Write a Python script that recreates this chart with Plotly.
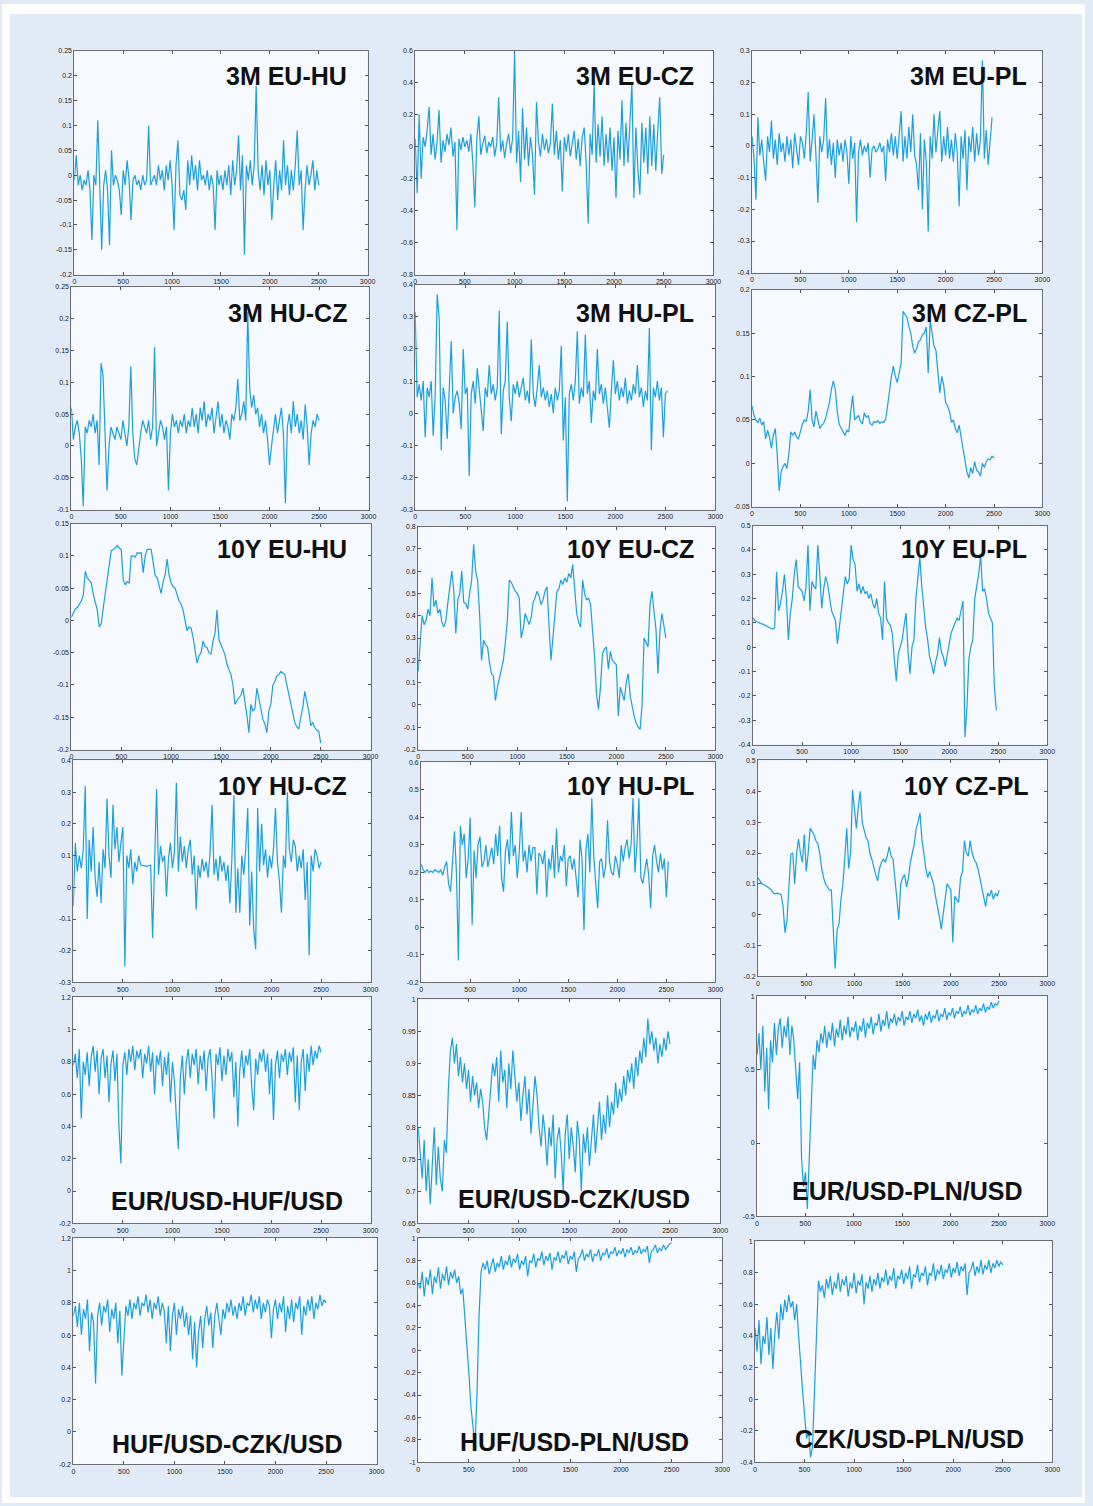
import numpy as np
import plotly.graph_objects as go

# Spacing (in observations) between the stored samples of every series
STEP = 20

# ---------------- 3M interest-rate differentials ----------------
ir3m_eu_hu = [-0.01, 0.04, -0.02, 0.0, -0.03, -0.01, -0.02, 0.01, -0.03, -0.13, 0.0, -0.02, 0.11, -0.04, -0.15, -0.02,
              0.01, -0.03, -0.14, 0.05, -0.02, 0.0, -0.01, -0.03, -0.08, 0.01, -0.02, 0.03, -0.01, -0.09, -0.01, 0.0,
              -0.02, -0.01, -0.03, 0.0, -0.02, -0.01, 0.1, -0.02, -0.01, 0.0, -0.02, 0.02, -0.01, 0.01, -0.03, 0.02,
              -0.01, 0.03, -0.02, -0.11, 0.02, 0.07, -0.04, -0.05, -0.03, -0.07, 0.03, -0.02, 0.04, -0.01, 0.02, -0.03,
              0.03, -0.01, 0.0, -0.02, 0.01, -0.03, 0.0, -0.02, -0.11, 0.01, -0.02, 0.0, -0.03, 0.01, -0.02, 0.02,
              -0.04, 0.03, -0.02, 0.01, 0.08, -0.03, 0.04, -0.16, 0.02, -0.01, 0.03, -0.02, 0.02, 0.18, 0.01, -0.03,
              0.02, -0.04, 0.03, -0.02, 0.01, -0.09, -0.02, 0.03, -0.05, 0.01, -0.03, 0.07, -0.02, 0.02, -0.04, 0.01,
              -0.03, 0.02, 0.09, -0.02, 0.01, -0.11, -0.03, 0.02, -0.02, 0.0, 0.03, -0.03, 0.01, -0.02]

ir3m_eu_cz = [0.05, -0.29, 0.2, -0.2, 0.06, 0.0, 0.1, 0.25, -0.05, 0.08, -0.08, 0.03, 0.23, -0.1, 0.04, -0.03,
              0.08, 0.01, 0.12, -0.06, 0.03, -0.52, 0.05, -0.02, 0.06, 0.0, 0.04, -0.03, 0.08, -0.1, -0.38, 0.05,
              0.19, -0.05, 0.02, 0.07, -0.04, 0.03, 0.0, 0.06, -0.06, 0.02, 0.31, -0.03, 0.04, -0.07, 0.02, 0.08,
              -0.04, 0.05, 0.58, -0.1, 0.1, -0.22, 0.24, -0.08, 0.12, -0.12, 0.06, -0.05, -0.3, 0.28, 0.03, -0.06,
              0.08, -0.02, 0.05, -0.04, 0.02, 0.27, -0.05, 0.1, -0.08, 0.04, -0.28, 0.06, -0.03, 0.08, -0.06, 0.03,
              0.1, -0.08, 0.05, -0.12, 0.06, 0.12, -0.1, -0.48, 0.08, -0.05, 0.4, -0.1, 0.14, -0.06, 0.19, -0.12,
              0.08, -0.1, 0.12, -0.15, 0.06, -0.32, 0.1, -0.08, 0.29, -0.12, 0.15, -0.1, 0.18, 0.4, -0.32, 0.12,
              -0.14, -0.3, 0.15, -0.1, 0.12, -0.17, 0.19, -0.12, 0.14, -0.15, 0.1, 0.31, -0.17, -0.05]

ir3m_eu_pl = [0.03, -0.04, -0.17, 0.09, -0.03, 0.02, -0.05, -0.11, 0.03, -0.02, 0.08, -0.04, 0.02, -0.06, 0.04, -0.02,
              0.01, -0.05, 0.03, -0.03, 0.02, -0.07, 0.04, -0.02, -0.06, 0.03, 0.01, -0.04, 0.04, 0.17, -0.05, 0.02,
              0.1, -0.03, -0.18, 0.03, -0.02, 0.02, 0.15, -0.04, 0.02, -0.06, 0.01, -0.1, 0.02, -0.03, 0.01, -0.05,
              0.02, -0.02, -0.12, 0.03, -0.04, 0.01, -0.24, -0.02, 0.02, -0.03, 0.0, -0.02, 0.01, -0.1, -0.01, 0.0,
              -0.02, -0.01, 0.01, -0.02, 0.0, -0.11, 0.02, -0.02, 0.04, -0.03, 0.03, -0.04, 0.05, 0.11, -0.05, 0.03,
              -0.04, 0.06, -0.02, 0.1, -0.03, -0.06, -0.14, 0.04, -0.2, 0.02, -0.05, -0.27, 0.03, -0.04, 0.1, -0.02,
              0.05, 0.11, -0.05, 0.03, -0.03, 0.06, -0.04, 0.02, -0.05, 0.04, -0.02, -0.19, 0.03, -0.04, 0.05, -0.14,
              0.03, -0.02, 0.06, -0.05, 0.04, -0.03, 0.02, 0.27, -0.04, 0.05, -0.06, 0.03, 0.09]

ir3m_hu_cz = [0.06, 0.01, 0.03, 0.04, 0.02, -0.02, -0.095, 0.03, 0.02, 0.04, 0.03, 0.05, 0.02, 0.04, -0.03, 0.13,
              0.11, 0.02, -0.07, 0.0, 0.03, 0.02, 0.01, 0.03, 0.02, 0.01, 0.04, 0.02, 0.0, 0.03, 0.125, 0.02,
              -0.02, -0.03, 0.0, 0.02, 0.04, 0.03, 0.02, 0.04, 0.01, 0.03, 0.155, 0.0, 0.02, 0.04, 0.03, 0.01,
              0.03, -0.07, 0.02, 0.05, 0.03, 0.04, 0.02, 0.04, 0.03, 0.05, 0.02, 0.04, 0.03, 0.06, 0.03, 0.05,
              0.02, 0.06, 0.04, 0.07, 0.03, 0.05, 0.04, 0.06, 0.02, 0.05, 0.07, 0.03, 0.05, 0.02, 0.04, 0.03,
              0.01, 0.05, 0.04, 0.06, 0.105, 0.04, 0.05, 0.07, 0.04, 0.21, 0.09, 0.06, 0.08, 0.05, 0.06, 0.03,
              0.05, 0.02, 0.04, 0.01, -0.03, 0.0, 0.03, 0.05, 0.02, 0.04, 0.06, 0.02, -0.09, 0.03, 0.05, 0.02,
              0.07, 0.03, 0.05, 0.02, 0.04, 0.01, 0.065, 0.03, -0.03, 0.02, 0.04, 0.03, 0.05, 0.04]

ir3m_hu_pl = [0.315, 0.05, 0.09, 0.04, 0.1, -0.075, 0.08, 0.05, 0.1, -0.07, 0.06, 0.37, 0.295, -0.115, 0.08, 0.04,
              -0.08, 0.09, 0.225, 0.0, 0.05, 0.07, 0.03, -0.05, 0.2, 0.06, 0.08, -0.195, 0.06, 0.1, 0.03, 0.14,
              0.07, 0.02, -0.055, 0.08, 0.05, 0.15, 0.06, 0.09, 0.04, 0.08, 0.32, -0.065, 0.07, 0.1, 0.285, 0.05,
              -0.025, 0.09, 0.06, 0.1, 0.05, 0.08, 0.11, 0.04, 0.07, 0.03, 0.23, 0.06, 0.02, 0.08, 0.15, 0.05,
              0.08, 0.04, 0.07, 0.02, 0.06, 0.0, 0.08, 0.04, 0.07, 0.21, -0.085, 0.05, -0.275, 0.06, 0.09, 0.04,
              0.1, 0.255, 0.03, 0.08, 0.05, 0.245, 0.06, 0.1, -0.03, 0.07, 0.04, 0.2, 0.06, 0.09, 0.03, 0.08,
              0.02, -0.045, 0.07, 0.165, 0.06, 0.1, 0.04, 0.08, 0.05, 0.11, 0.03, 0.07, 0.04, 0.09, 0.06, 0.15,
              0.05, 0.08, 0.02, 0.07, 0.04, 0.265, -0.115, 0.08, 0.05, 0.1, 0.04, 0.08, -0.075, 0.06, 0.07]

ir3m_cz_pl = [0.066, 0.055, 0.05, 0.047, 0.052, 0.044, 0.048, 0.028, 0.038, 0.03, 0.017, 0.032, 0.04, 0.01, -0.032, -0.01,
              -0.004, 0.0, -0.006, 0.01, 0.036, 0.032, 0.036, 0.03, 0.028, 0.038, 0.045, 0.05, 0.048, 0.06, 0.085, 0.05,
              0.042, 0.06, 0.05, 0.04, 0.044, 0.046, 0.052, 0.06, 0.07, 0.085, 0.095, 0.085, 0.06, 0.045, 0.04, 0.036,
              0.032, 0.038, 0.036, 0.06, 0.078, 0.05, 0.052, 0.055, 0.048, 0.045, 0.058, 0.053, 0.055, 0.046, 0.044, 0.048,
              0.047, 0.049, 0.046, 0.048, 0.047, 0.05, 0.066, 0.085, 0.1, 0.112, 0.1, 0.093, 0.105, 0.115, 0.175, 0.172,
              0.168, 0.158, 0.15, 0.135, 0.127, 0.132, 0.14, 0.142, 0.148, 0.15, 0.157, 0.104, 0.165, 0.15, 0.135, 0.13,
              0.1, 0.081, 0.1, 0.09, 0.07, 0.066, 0.06, 0.047, 0.05, 0.04, 0.035, 0.044, 0.03, 0.015, 0.002, -0.01,
              -0.017, -0.005, -0.012, 0.002, -0.008, -0.01, -0.015, 0.0, -0.005, 0.002, 0.005, 0.004, 0.008, 0.006]

# ---------------- 10Y bond-yield differentials ----------------
ir10y_eu_hu = [0.005, 0.012, 0.018, 0.02, 0.025, 0.03, 0.04, 0.076, 0.066, 0.062, 0.058, 0.04, 0.026, 0.016, -0.01, -0.005,
               0.02, 0.042, 0.07, 0.09, 0.108, 0.11, 0.112, 0.116, 0.112, 0.11, 0.063, 0.055, 0.06, 0.058, 0.1, 0.1,
               0.098, 0.105, 0.104, 0.105, 0.074, 0.1, 0.11, 0.11, 0.11, 0.09, 0.07, 0.066, 0.055, 0.042, 0.06, 0.07,
               0.095, 0.07, 0.058, 0.052, 0.05, 0.04, 0.03, 0.025, 0.016, 0.0, -0.016, -0.01, -0.012, -0.026, -0.045, -0.066,
               -0.055, -0.05, -0.032, -0.04, -0.042, -0.05, -0.052, -0.032, -0.02, 0.016, -0.03, -0.037, -0.045, -0.053, -0.068, -0.075,
               -0.084, -0.1, -0.13, -0.124, -0.12, -0.116, -0.105, -0.125, -0.147, -0.174, -0.13, -0.14, -0.137, -0.105, -0.12, -0.14,
               -0.153, -0.16, -0.174, -0.14, -0.13, -0.1, -0.095, -0.086, -0.084, -0.079, -0.082, -0.084, -0.1, -0.115, -0.126, -0.14,
               -0.158, -0.165, -0.168, -0.15, -0.135, -0.11, -0.125, -0.14, -0.163, -0.158, -0.166, -0.17, -0.172, -0.19]

ir10y_eu_cz = [0.15, 0.3, 0.4, 0.36, 0.38, 0.43, 0.4, 0.57, 0.44, 0.47, 0.41, 0.43, 0.37, 0.35, 0.38, 0.46,
               0.52, 0.6, 0.51, 0.32, 0.47, 0.5, 0.6, 0.46, 0.455, 0.43, 0.5, 0.56, 0.72, 0.6, 0.56, 0.41,
               0.2, 0.29, 0.27, 0.26, 0.19, 0.14, 0.13, 0.02, 0.08, 0.12, 0.16, 0.2, 0.28, 0.38, 0.56, 0.55,
               0.53, 0.51, 0.5, 0.48, 0.3, 0.34, 0.41, 0.38, 0.36, 0.39, 0.46, 0.48, 0.51, 0.49, 0.45, 0.47,
               0.51, 0.53, 0.38, 0.2, 0.3, 0.42, 0.51, 0.52, 0.56, 0.54, 0.57, 0.55, 0.59, 0.57, 0.63, 0.52,
               0.41, 0.37, 0.35, 0.56, 0.5, 0.47, 0.48, 0.45, 0.34, 0.22, 0.05, -0.02, 0.08, 0.23, 0.25, 0.26,
               0.16, 0.24, 0.2, 0.19, 0.18, -0.05, 0.08, 0.05, 0.02, 0.1, 0.14, 0.04, -0.01, -0.05, -0.08, -0.1,
               -0.11, 0.0, 0.3, 0.28, 0.26, 0.45, 0.51, 0.42, 0.34, 0.14, 0.33, 0.41, 0.36, 0.3]

ir10y_eu_pl = [0.12, 0.11, 0.105, 0.1, 0.097, 0.095, 0.09, 0.085, 0.08, 0.078, 0.075, 0.08, 0.31, 0.15, 0.18, 0.23,
               0.3, 0.2, 0.03, 0.14, 0.2, 0.3, 0.36, 0.25, 0.24, 0.23, 0.19, 0.25, 0.42, 0.15, 0.27, 0.25,
               0.24, 0.42, 0.3, 0.16, 0.24, 0.29, 0.26, 0.2, 0.15, 0.13, 0.11, 0.014, 0.08, 0.14, 0.22, 0.29,
               0.26, 0.28, 0.42, 0.36, 0.34, 0.23, 0.26, 0.22, 0.25, 0.22, 0.23, 0.2, 0.22, 0.18, 0.16, 0.2,
               0.14, 0.12, 0.03, 0.27, 0.12, 0.1, 0.09, 0.055, -0.05, -0.14, -0.027, 0.0, 0.03, 0.09, 0.14, -0.02,
               -0.11, 0.0, 0.03, 0.2, 0.28, 0.37, 0.25, 0.16, 0.08, 0.03, -0.04, -0.07, -0.11, -0.06, -0.03, 0.04,
               -0.02, -0.04, -0.08, -0.03, 0.02, 0.06, 0.08, 0.1, 0.12, 0.11, 0.15, 0.19, -0.37, -0.25, -0.05, 0.0,
               0.03, 0.2, 0.25, 0.3, 0.38, 0.23, 0.24, 0.2, 0.14, 0.12, 0.1, -0.16, -0.26]

ir10y_hu_cz = [-0.06, 0.14, 0.05, 0.1, 0.06, 0.12, 0.32, -0.1, 0.15, 0.05, 0.19, 0.03, -0.03, 0.08, -0.05, 0.12,
               0.06, 0.28, 0.1, 0.03, 0.26, 0.12, 0.19, 0.08, 0.14, 0.19, -0.25, 0.1, 0.06, 0.12, 0.01, 0.08,
               0.05, 0.1, 0.07, 0.068, 0.068, 0.066, 0.068, 0.07, -0.16, 0.12, 0.31, 0.04, 0.13, 0.08, 0.1, -0.03,
               0.09, 0.14, 0.06, 0.11, 0.33, 0.05, 0.16, 0.08, 0.13, 0.06, 0.12, 0.15, 0.04, 0.1, -0.07, 0.07,
               0.03, 0.09, 0.05, 0.08, 0.03, 0.11, 0.26, 0.04, 0.09, 0.02, 0.1, 0.05, 0.08, 0.02, 0.07, -0.05,
               0.09, 0.29, -0.08, 0.06, -0.08, 0.1, 0.04, 0.12, 0.25, -0.12, 0.05, -0.13, -0.195, 0.25, 0.05, 0.2,
               0.07, 0.12, 0.03, 0.1, 0.06, 0.12, 0.25, 0.08, 0.02, -0.08, 0.1, 0.06, 0.3, 0.12, 0.08, 0.15,
               0.13, 0.05, 0.1, 0.06, 0.12, -0.04, 0.08, -0.215, 0.1, 0.05, 0.12, 0.1, 0.06, 0.08]

ir10y_hu_pl = [0.23, 0.21, 0.2, 0.21, 0.2, 0.205, 0.2, 0.21, 0.205, 0.2, 0.21, 0.19, 0.22, 0.24, 0.157, 0.13,
               0.24, 0.35, 0.2, -0.12, 0.37, 0.3, 0.34, 0.18, 0.25, 0.4, 0.01, 0.28, 0.18, 0.3, 0.33, 0.22,
               0.24, 0.3, 0.22, 0.26, 0.29, 0.23, 0.34, 0.26, 0.37, 0.18, 0.13, 0.28, 0.32, 0.23, 0.42, 0.26,
               0.3, 0.18, 0.27, 0.42, 0.24, 0.28, 0.2, 0.3, 0.24, 0.29, 0.29, 0.12, 0.27, 0.26, 0.23, 0.28,
               0.11, 0.25, 0.21, 0.3, 0.18, 0.36, 0.2, 0.26, 0.24, 0.3, 0.15, 0.25, 0.26, 0.21, 0.25, 0.18,
               0.11, 0.32, 0.25, -0.01, 0.28, 0.34, 0.2, 0.47, 0.26, 0.16, 0.07, 0.24, 0.25, 0.18, 0.22, 0.39,
               0.24, 0.2, 0.19, 0.26, 0.23, 0.18, 0.3, 0.24, 0.29, 0.32, 0.25, 0.3, 0.47, 0.2, 0.3, 0.47,
               0.18, 0.16, 0.2, 0.25, 0.19, 0.07, 0.26, 0.3, 0.24, 0.2, 0.27, 0.21, 0.25, 0.11, 0.24]

ir10y_cz_pl = [0.12, 0.11, 0.1, 0.098, 0.095, 0.09, 0.085, 0.08, 0.07, 0.068, 0.07, 0.068, 0.065, 0.026, -0.058, -0.02,
               0.1, 0.195, 0.2, 0.1, 0.2, 0.245, 0.2, 0.17, 0.26, 0.14, 0.2, 0.28, 0.27, 0.26, 0.24, 0.23,
               0.2, 0.15, 0.12, 0.1, 0.09, 0.08, 0.08, -0.07, -0.175, -0.05, -0.03, 0.05, 0.1, 0.185, 0.28, 0.15,
               0.2, 0.405, 0.33, 0.28, 0.35, 0.4, 0.3, 0.27, 0.25, 0.24, 0.2, 0.18, 0.15, 0.13, 0.11, 0.15,
               0.17, 0.18, 0.17, 0.19, 0.22, 0.19, 0.18, 0.1, 0.05, -0.016, 0.1, 0.12, 0.13, 0.09, 0.12, 0.17,
               0.2, 0.23, 0.28, 0.3, 0.33, 0.24, 0.2, 0.15, 0.12, 0.14, 0.12, 0.1, 0.06, 0.03, -0.005, -0.047,
               0.0, 0.05, 0.1, 0.09, 0.08, -0.09, 0.06, 0.05, 0.04, 0.12, 0.14, 0.24, 0.2, 0.19, 0.24, 0.2,
               0.18, 0.17, 0.15, 0.12, 0.09, 0.06, 0.026, 0.07, 0.06, 0.08, 0.05, 0.07, 0.06, 0.08]

# ---------------- Exchange-rate pairs ----------------
fx_eurusd_hufusd = [0.78, 0.85, 0.7, 0.88, 0.45, 0.8, 0.72, 0.86, 0.65, 0.83, 0.9, 0.74, 0.87, 0.6, 0.82, 0.88,
                    0.7, 0.84, 0.55, 0.79, 0.87, 0.68, 0.85, 0.4, 0.17, 0.78, 0.86, 0.72, 0.88, 0.8, 0.9, 0.75,
                    0.87, 0.82, 0.88, 0.7, 0.85, 0.79, 0.9, 0.74, 0.86, 0.6, 0.84, 0.78, 0.87, 0.65, 0.83, 0.72,
                    0.86, 0.55, 0.8, 0.68, 0.45, 0.26, 0.7, 0.84, 0.6, 0.8, 0.88, 0.7, 0.85, 0.78, 0.88, 0.66,
                    0.84, 0.75, 0.87, 0.62, 0.82, 0.88, 0.7, 0.45, 0.85, 0.78, 0.89, 0.68, 0.84, 0.72, 0.88, 0.8,
                    0.86, 0.58, 0.8, 0.4, 0.75, 0.87, 0.7, 0.84, 0.78, 0.88, 0.65, 0.5, 0.82, 0.72, 0.86, 0.8,
                    0.88, 0.74, 0.85, 0.6, 0.82, 0.44, 0.78, 0.87, 0.7, 0.85, 0.8, 0.88, 0.72, 0.86, 0.8, 0.89,
                    0.55, 0.84, 0.5, 0.8, 0.88, 0.62, 0.85, 0.74, 0.9, 0.78, 0.87, 0.82, 0.9, 0.86]

fx_eurusd_czkusd = [0.8, 0.76, 0.72, 0.78, 0.7, 0.75, 0.68, 0.74, 0.8, 0.71, 0.77, 0.72, 0.7, 0.78, 0.76, 0.86,
                    0.92, 0.94, 0.9, 0.93, 0.88, 0.91, 0.87, 0.9, 0.86, 0.89, 0.84, 0.88, 0.85, 0.87, 0.83, 0.86,
                    0.84, 0.8, 0.78, 0.82, 0.86, 0.9, 0.88, 0.91, 0.84, 0.92, 0.87, 0.89, 0.83, 0.9, 0.86, 0.92,
                    0.88, 0.84, 0.87, 0.81, 0.85, 0.88, 0.82, 0.86, 0.79, 0.83, 0.88, 0.85, 0.8, 0.77, 0.82, 0.79,
                    0.74, 0.8, 0.77, 0.82, 0.72, 0.78, 0.8, 0.76, 0.7, 0.79, 0.82, 0.75, 0.8, 0.77, 0.73, 0.81,
                    0.78, 0.7, 0.79, 0.76, 0.8, 0.74, 0.78, 0.82, 0.76, 0.8, 0.84, 0.78, 0.82, 0.79, 0.85, 0.8,
                    0.84, 0.82, 0.87, 0.83, 0.86, 0.84, 0.88, 0.85, 0.89, 0.87, 0.9, 0.86, 0.91, 0.88, 0.92, 0.9,
                    0.94, 0.91, 0.97, 0.93, 0.95, 0.92, 0.94, 0.9, 0.93, 0.91, 0.94, 0.92, 0.95, 0.93]

fx_eurusd_plnusd = [0.6, 0.75, 0.5, 0.8, 0.35, 0.65, 0.23, 0.7, 0.55, 0.82, 0.6, 0.78, 0.85, 0.65, 0.8, 0.72,
                    0.86, 0.6, 0.8, 0.7, 0.5, 0.3, 0.55, -0.1, -0.3, -0.2, -0.45, -0.1, 0.3, 0.6, 0.5, 0.7,
                    0.62, 0.75, 0.68, 0.8, 0.65, 0.76, 0.7, 0.82, 0.66, 0.78, 0.72, 0.84, 0.7, 0.8, 0.74, 0.86,
                    0.72, 0.79, 0.76, 0.83, 0.7, 0.8, 0.76, 0.85, 0.72, 0.82, 0.78, 0.86, 0.74, 0.82, 0.8, 0.88,
                    0.76, 0.84, 0.8, 0.9, 0.78, 0.85, 0.82, 0.88, 0.8, 0.86, 0.83, 0.9, 0.8, 0.86, 0.84, 0.9,
                    0.82, 0.88, 0.85, 0.91, 0.83, 0.87, 0.8, 0.88, 0.84, 0.9, 0.82, 0.87, 0.85, 0.91, 0.83, 0.88,
                    0.86, 0.92, 0.84, 0.89, 0.87, 0.92, 0.85, 0.9, 0.88, 0.93, 0.86, 0.9, 0.88, 0.94, 0.87, 0.91,
                    0.89, 0.94, 0.88, 0.92, 0.9, 0.95, 0.89, 0.93, 0.91, 0.96, 0.92, 0.95, 0.94, 0.97]

fx_hufusd_czkusd = [0.72, 0.78, 0.65, 0.8, 0.6, 0.76, 0.7, 0.82, 0.5, 0.74, 0.68, 0.3, 0.72, 0.8, 0.66, 0.78,
                    0.74, 0.82, 0.62, 0.76, 0.7, 0.8, 0.55, 0.75, 0.35, 0.6, 0.78, 0.72, 0.82, 0.7, 0.8, 0.76,
                    0.84, 0.72, 0.8, 0.78, 0.85, 0.74, 0.82, 0.7, 0.8, 0.76, 0.84, 0.72, 0.8, 0.75, 0.55, 0.78,
                    0.5, 0.72, 0.8, 0.6, 0.76, 0.7, 0.78, 0.65, 0.74, 0.6, 0.72, 0.45, 0.68, 0.4, 0.62, 0.72,
                    0.52, 0.7, 0.78, 0.66, 0.74, 0.52, 0.72, 0.8, 0.68, 0.6, 0.76, 0.7, 0.8, 0.74, 0.82, 0.72,
                    0.78, 0.7, 0.8, 0.75, 0.84, 0.72, 0.8, 0.78, 0.85, 0.74, 0.82, 0.76, 0.84, 0.7, 0.8, 0.74,
                    0.82, 0.78, 0.58, 0.76, 0.82, 0.7, 0.8, 0.74, 0.84, 0.62, 0.78, 0.7, 0.82, 0.68, 0.8, 0.76,
                    0.84, 0.6, 0.78, 0.72, 0.82, 0.75, 0.84, 0.7, 0.8, 0.76, 0.85, 0.78, 0.82, 0.8]

fx_hufusd_plnusd = [0.6, 0.55, 0.7, 0.48, 0.65, 0.58, 0.72, 0.5, 0.66, 0.6, 0.74, 0.55, 0.68, 0.62, 0.75, 0.58,
                    0.7, 0.64, 0.72, 0.6, 0.66, 0.5, 0.55, 0.3, 0.1, -0.2, -0.5, -0.7, -0.85, -0.4, 0.3, 0.7,
                    0.78, 0.72, 0.8, 0.68, 0.76, 0.82, 0.7, 0.78, 0.74, 0.84, 0.72, 0.8, 0.76, 0.85, 0.74, 0.82,
                    0.78, 0.86, 0.72, 0.8, 0.76, 0.84, 0.66, 0.8, 0.78, 0.86, 0.74, 0.82, 0.8, 0.88, 0.76, 0.84,
                    0.8, 0.87, 0.72, 0.83, 0.8, 0.88, 0.78, 0.85, 0.82, 0.89, 0.77, 0.84, 0.81, 0.88, 0.7, 0.82,
                    0.84, 0.9, 0.8, 0.86, 0.83, 0.9, 0.79, 0.86, 0.84, 0.9, 0.8, 0.87, 0.85, 0.91, 0.82, 0.88,
                    0.86, 0.92, 0.84, 0.89, 0.86, 0.91, 0.83, 0.9, 0.87, 0.92, 0.85, 0.89, 0.87, 0.93, 0.86, 0.9,
                    0.88, 0.93, 0.78, 0.88, 0.9, 0.94, 0.87, 0.91, 0.89, 0.94, 0.9, 0.93, 0.95, 0.96]

fx_czkusd_plnusd = [0.45, 0.3, 0.5, 0.22, 0.4, 0.35, 0.52, 0.28, 0.45, 0.19, 0.42, 0.55, 0.38, 0.6, 0.5, 0.63,
                    0.55, 0.66, 0.58, 0.62, 0.5, 0.6, 0.4, 0.2, 0.05, -0.1, -0.25, -0.2, -0.37, -0.3, 0.1, 0.5,
                    0.75, 0.68, 0.72, 0.64, 0.76, 0.7, 0.78, 0.66, 0.74, 0.7, 0.8, 0.68, 0.76, 0.72, 0.78, 0.65,
                    0.74, 0.7, 0.8, 0.67, 0.75, 0.72, 0.79, 0.6, 0.74, 0.7, 0.78, 0.68, 0.76, 0.72, 0.8, 0.7,
                    0.77, 0.74, 0.82, 0.72, 0.78, 0.75, 0.83, 0.7, 0.78, 0.76, 0.82, 0.73, 0.8, 0.76, 0.84, 0.7,
                    0.79, 0.77, 0.85, 0.74, 0.8, 0.78, 0.84, 0.72, 0.8, 0.78, 0.86, 0.75, 0.82, 0.79, 0.85, 0.76,
                    0.82, 0.8, 0.86, 0.77, 0.83, 0.8, 0.87, 0.78, 0.84, 0.81, 0.86, 0.66, 0.8, 0.82, 0.87, 0.78,
                    0.84, 0.8, 0.88, 0.79, 0.85, 0.82, 0.88, 0.8, 0.86, 0.83, 0.88, 0.84, 0.87, 0.85]

# y-axis ticks of each panel: (lowest, highest, step)
ticks_3m = [(-0.2, 0.25, 0.05), (-0.8, 0.6, 0.2), (-0.4, 0.3, 0.1),
            (-0.1, 0.25, 0.05), (-0.3, 0.4, 0.1), (-0.05, 0.2, 0.05)]
ticks_10y = [(-0.2, 0.15, 0.05), (-0.2, 0.8, 0.1), (-0.4, 0.5, 0.1),
             (-0.3, 0.4, 0.1), (-0.2, 0.6, 0.1), (-0.2, 0.5, 0.1)]
ticks_fx = [(-0.2, 1.2, 0.2), (0.65, 1.0, 0.05), (-0.5, 1.0, 0.5),
            (-0.2, 1.2, 0.2), (-1.0, 1.0, 0.2), (-0.4, 1.0, 0.2)]
x_ticks = [0, 500, 1000, 1500, 2000, 2500, 3000]

names = ["3M EU-HU", "3M EU-CZ", "3M EU-PL", "3M HU-CZ", "3M HU-PL", "3M CZ-PL",
         "10Y EU-HU", "10Y EU-CZ", "10Y EU-PL", "10Y HU-CZ", "10Y HU-PL", "10Y CZ-PL",
         "EUR/USD-HUF/USD", "EUR/USD-CZK/USD", "EUR/USD-PLN/USD",
         "HUF/USD-CZK/USD", "HUF/USD-PLN/USD", "CZK/USD-PLN/USD"]
series = [ir3m_eu_hu, ir3m_eu_cz, ir3m_eu_pl, ir3m_hu_cz, ir3m_hu_pl, ir3m_cz_pl,
          ir10y_eu_hu, ir10y_eu_cz, ir10y_eu_pl, ir10y_hu_cz, ir10y_hu_pl, ir10y_cz_pl,
          fx_eurusd_hufusd, fx_eurusd_czkusd, fx_eurusd_plnusd,
          fx_hufusd_czkusd, fx_hufusd_plnusd, fx_czkusd_plnusd]
yticks = ticks_3m + ticks_10y + ticks_fx

W, H = 1093, 1506

# frame of every panel on the page, in pixels: left, right, top, bottom
frames = [(73, 369, 47, 272), (417, 718, 47, 272), (757, 1050, 47, 270),
          (70, 370, 284, 508), (417, 720, 282, 508), (757, 1050, 287, 505),
          (70, 372, 522, 749), (420, 720, 525, 749), (758, 1055, 524, 744),
          (72, 372, 760, 983), (423, 720, 762, 983), (763, 1055, 760, 977),
          (72, 372, 998, 1225), (420, 725, 1000, 1225), (762, 1055, 997, 1218),
          (72, 378, 1240, 1467), (420, 727, 1240, 1465), (760, 1060, 1243, 1465)]

# caption anchor of every panel: x, y in pixels, horizontal anchor
captions = [(350, 72, "right"), (700, 72, "right"), (1036, 72, "right"),
            (350, 310, "right"), (700, 310, "right"), (1036, 310, "right"),
            (350, 548, "right"), (700, 548, "right"), (1036, 548, "right"),
            (350, 786, "right"), (700, 786, "right"), (1038, 786, "right"),
            (227, 1203, "center"), (577, 1201, "center"), (914, 1193, "center"),
            (228, 1447, "center"), (578, 1445, "center"), (916, 1442, "center")]

LINE = "#1c9fe0"
FRAME = "#6e6e72"
PAGE = "#e1ebf8"


def fmt(v):
    s = f"{v:.2f}".rstrip("0").rstrip(".")
    return "0" if s in ("-0", "") else s


fig = go.Figure()
layout = dict(width=W, height=H, margin=dict(l=0, r=0, t=0, b=0), autosize=False,
              paper_bgcolor=PAGE, plot_bgcolor="#f6f9fd", showlegend=False,
              font=dict(family="Liberation Sans, Arial, sans-serif", color="#222"))
annotations = []

for i, (name, vals, (lo, hi, st), (l, r, t, b), (cx, cy, anc)) in enumerate(
        zip(names, series, yticks, frames, captions)):
    sfx = "" if i == 0 else str(i + 1)
    x = np.arange(len(vals)) * STEP
    fig.add_trace(go.Scatter(x=x, y=vals, mode="lines", xaxis="x" + sfx, yaxis="y" + sfx,
                             line=dict(color=LINE, width=1.2), hoverinfo="skip"))
    tv = np.round(np.arange(lo, hi + st / 2, st), 4)
    axis_common = dict(showgrid=False, zeroline=False, showline=True, linecolor=FRAME, linewidth=1,
                       mirror="allticks", ticks="inside", ticklen=3, tickcolor="#555",
                       tickfont=dict(size=7, color="#222"))
    layout["xaxis" + sfx] = dict(domain=[l / W, r / W], anchor="y" + sfx, range=[0, 3000],
                                 tickvals=x_ticks, ticktext=[str(v) for v in x_ticks], **axis_common)
    layout["yaxis" + sfx] = dict(domain=[1 - b / H, 1 - t / H], anchor="x" + sfx, range=[lo, hi],
                                 tickvals=tv, ticktext=[fmt(v) for v in tv], **axis_common)
    annotations.append(dict(text=f"<b>{name}</b>", x=cx / W, y=1 - cy / H, xref="paper", yref="paper",
                            xanchor=anc, yanchor="middle", showarrow=False,
                            font=dict(size=25, color="#111", family="Liberation Sans, Arial, sans-serif")))

layout["annotations"] = annotations
# white page margin around the tinted sheet
edge = dict(type="rect", xref="paper", yref="paper", fillcolor="white", line=dict(width=0), layer="below")
layout["shapes"] = [dict(edge, x0=0, x1=8 / W, y0=0, y1=1),
                    dict(edge, x0=1090 / W, x1=1, y0=0, y1=1),
                    dict(edge, x0=0, x1=1, y0=1 - 10 / H, y1=1),
                    dict(edge, x0=0, x1=1, y0=0, y1=1 - 1500 / H)]
fig.update_layout(**layout)
fig.write_html("out.html")
